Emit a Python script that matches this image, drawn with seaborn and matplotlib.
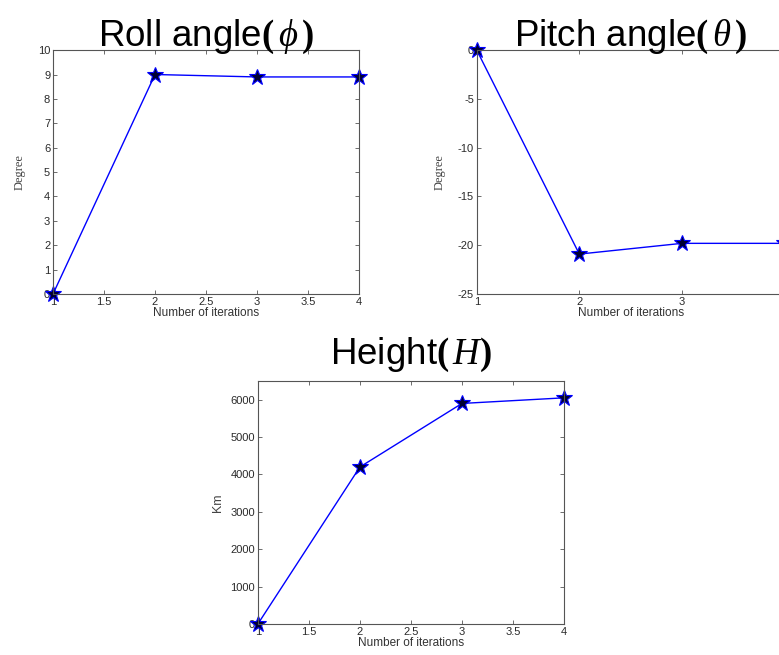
import pandas as pd
import matplotlib.pyplot as plt
import seaborn as sns

iterations = [1, 2, 3, 4]
roll_deg = [0.0, 9.0, 8.9, 8.9]
pitch_deg = [0.0, -20.9, -19.8, -19.8]
height_km = [0, 4200, 5900, 6050]

sns.set_style("ticks")
plt.rcParams["font.family"] = ["Liberation Sans", "DejaVu Sans"]
plt.rcParams["mathtext.fontset"] = "custom"
plt.rcParams["mathtext.rm"] = "Liberation Serif"
plt.rcParams["mathtext.it"] = "Liberation Serif:italic"
plt.rcParams["mathtext.bf"] = "Liberation Serif:bold"
plt.rcParams["axes.unicode_minus"] = False

fig = plt.figure(figsize=(7.79, 6.55), dpi=100)

# axes rectangles in figure fractions (pitch runs past the right edge, as in the source)
ax_roll = fig.add_axes([0.068, 0.551, 0.393, 0.3725])
ax_pitch = fig.add_axes([0.612, 0.551, 0.395, 0.3725])
ax_height = fig.add_axes([0.331, 0.0473, 0.393, 0.371])


def draw(ax, y, ylabel, ylabel_font, title, ylim, yticks, xticks, title_pad, ylabelpad):
    df = pd.DataFrame({"x": iterations, "y": y})
    sns.lineplot(data=df, x="x", y="y", ax=ax, color="blue", linewidth=1.0,
                 marker="*", markersize=12, markerfacecolor="#000033",
                 markeredgecolor="blue", markeredgewidth=0.8, clip_on=False)
    ax.set_xlim(1, 4)
    ax.set_ylim(*ylim)
    ax.set_xticks(xticks)
    ax.set_xticklabels([f"{t:g}" for t in xticks])
    ax.set_yticks(yticks)
    ax.tick_params(direction="in", top=True, right=True, length=3, width=0.6,
                   labelsize=8, colors="#555555", labelcolor="#2a2a2a", pad=2)
    for s in ax.spines.values():
        s.set_color("#555555")
        s.set_linewidth(0.8)
    ax.set_xlabel("Number of iterations", fontsize=8.5, color="#333333", labelpad=0)
    ax.set_ylabel(ylabel, fontsize=9, color="#444444", family=ylabel_font, labelpad=ylabelpad)
    ax.set_title(title, fontsize=26.5, color="black", pad=title_pad)


draw(ax_roll, roll_deg, "Degree", ["Liberation Serif"],
     r"Roll angle$\mathbf{(}\,\phi\,\mathbf{)}$", (0, 10), range(0, 11),
     [1, 1.5, 2, 2.5, 3, 3.5, 4], 3, 9)
draw(ax_pitch, pitch_deg, "Degree", ["Liberation Serif"],
     r"Pitch angle$\mathbf{(}\,\theta\,\mathbf{)}$", (-25, 0), range(-25, 1, 5),
     [1, 2, 3], 3, 9)
draw(ax_height, height_km, "Km", ["Liberation Sans"],
     r"Height$\mathbf{(}\,H\mathbf{)}$", (0, 6500), range(0, 6001, 1000),
     [1, 1.5, 2, 2.5, 3, 3.5, 4], 12, 5)

fig.savefig("out.png", dpi=100)
plt.close(fig)
